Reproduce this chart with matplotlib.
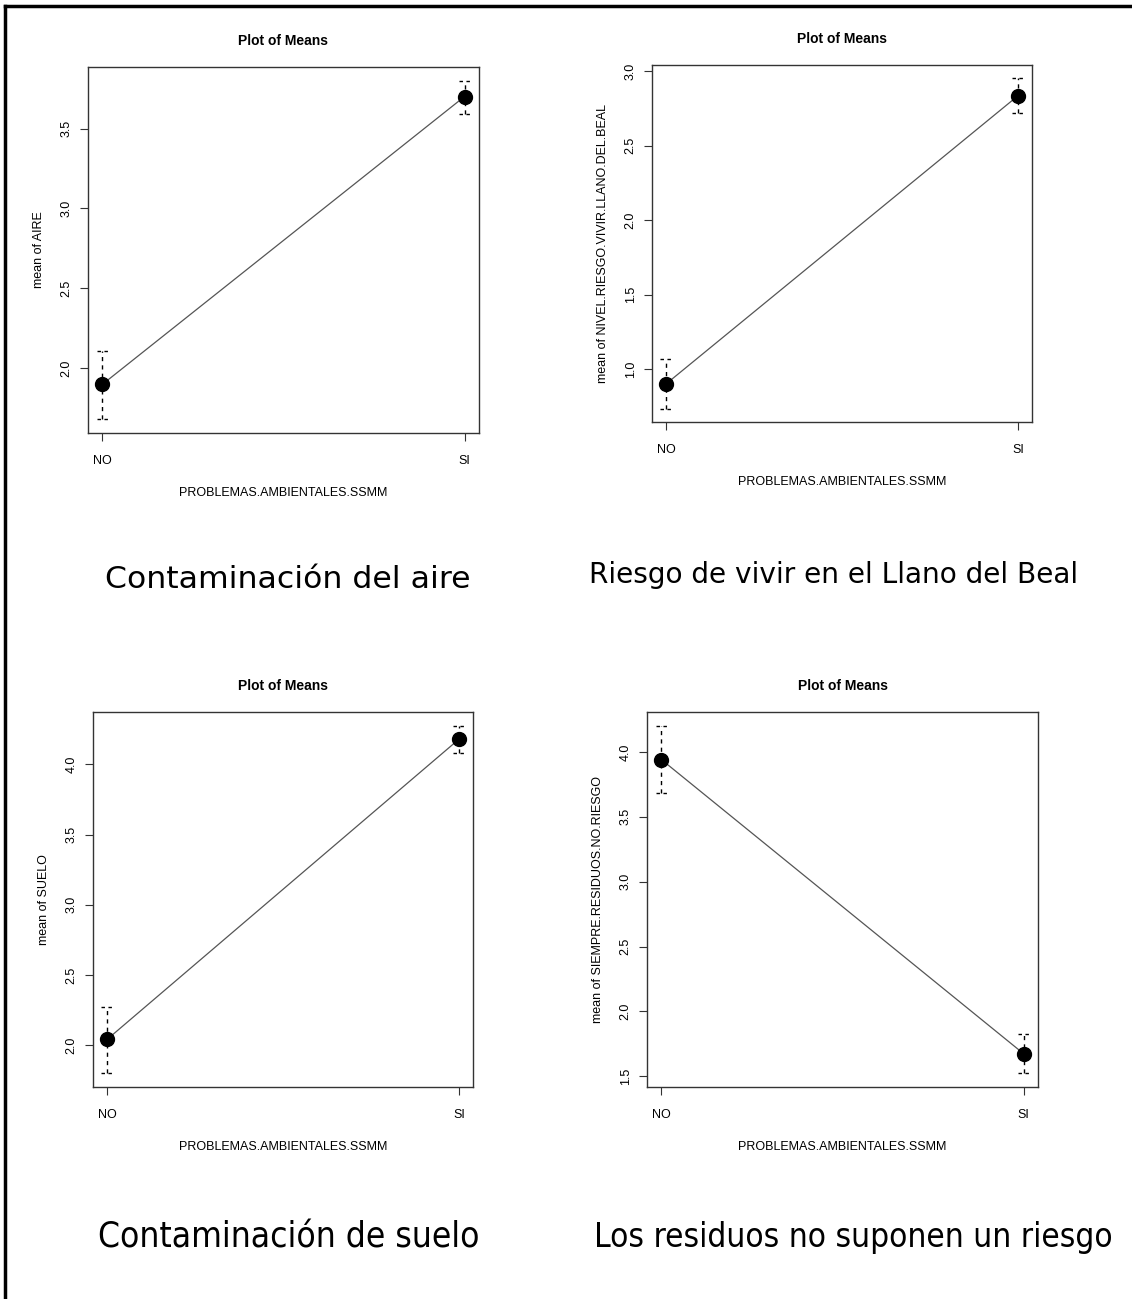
import matplotlib
matplotlib.use("Agg")
import matplotlib.pyplot as plt
from matplotlib.lines import Line2D

groups = ["NO", "SI"]
xlabel = "PROBLEMAS.AMBIENTALES.SSMM"

ylabels = ["mean of AIRE",
           "mean of NIVEL.RIESGO.VIVIR.LLANO.DEL.BEAL",
           "mean of SUELO",
           "mean of SIEMPRE.RESIDUOS.NO.RIESGO"]
means = [[1.90, 3.70],
         [0.90, 2.835],
         [2.04, 4.18],
         [3.94, 1.675]]
upper = [[2.11, 3.80],
         [1.065, 2.953],
         [2.27, 4.275],
         [4.20, 1.83]]
lower = [[1.68, 3.59],
         [0.733, 2.717],
         [1.80, 4.085],
         [3.685, 1.525]]
yticks = [[2.0, 2.5, 3.0, 3.5],
          [1.0, 1.5, 2.0, 2.5, 3.0],
          [2.0, 2.5, 3.0, 3.5, 4.0],
          [1.5, 2.0, 2.5, 3.0, 3.5, 4.0]]
captions = ["Contaminación del aire",
            "Riesgo de vivir en el Llano del Beal",
            "Contaminación de suelo",
            "Los residuos no suponen un riesgo"]

W, H = 1132, 1299
fig = plt.figure(figsize=(W / 100, H / 100), dpi=100)
fig.patch.set_facecolor("white")

# axes boxes in pixel coords: left, top, right, bottom
boxes = [(88, 67, 479, 433),
         (652, 65, 1032, 422),
         (93, 712, 473, 1087),
         (647, 712, 1038, 1087)]
# caption: left x, right x, center y, stretch
cap_pos = [(105, 470, 580, "normal"), (588, 1080, 575, "normal"),
           (98, 480, 1238, "condensed"), (594, 1113, 1238, "condensed")]

afont = ["Liberation Sans", "DejaVu Sans"]
frame_col = "#333333"

for i in range(4):
    l, t, r, b = boxes[i]
    ax = fig.add_axes([l / W, 1 - b / H, (r - l) / W, (b - t) / H])
    xs = [1, 2]
    ax.plot(xs, means[i], color="#555555", lw=0.9, zorder=2)
    ax.plot(xs, means[i], "o", color="black", ms=10, zorder=3)
    ax.vlines(xs, lower[i], upper[i], colors="black", linestyles=(0, (3, 3)), lw=1, zorder=1)
    for xv, lo, up in zip(xs, lower[i], upper[i]):
        ax.hlines([lo, up], xv - 0.016, xv + 0.016, colors="black",
                  linestyles=(0, (2.5, 2.5)), lw=1, zorder=1)
    lo_all = min(lower[i]); hi_all = max(upper[i])
    rng = hi_all - lo_all
    ax.set_ylim(lo_all - 0.04 * rng, hi_all + 0.04 * rng)
    ax.set_xlim(0.96, 2.04)
    ax.set_xticks(xs)
    ax.set_xticklabels(groups, fontsize=9, family=afont)
    ax.set_yticks(yticks[i])
    ax.set_yticklabels([f"{v:.1f}" for v in yticks[i]], fontsize=9, family=afont,
                       rotation=90, va="center")
    ax.tick_params(axis="x", direction="out", length=6, width=0.8, color=frame_col, pad=10)
    ax.tick_params(axis="y", direction="out", length=6, width=0.8, color=frame_col, pad=5)
    for s in ax.spines.values():
        s.set_color(frame_col)
        s.set_linewidth(1.0)
    ax.set_title("Plot of Means", fontsize=10, fontweight="bold", family=afont, pad=16)
    ax.set_xlabel(xlabel, fontsize=9, family=afont, labelpad=14)
    ax.set_ylabel(ylabels[i], fontsize=9, family=afont, labelpad=11)

renderer = fig.canvas.get_renderer()
for i in range(4):
    x0, x1, cy, stretch = cap_pos[i]
    txt = fig.text((x0 + x1) / 2 / W, 1 - cy / H, captions[i], fontsize=24,
                   ha="center", va="center", family=["DejaVu Sans"], stretch=stretch)
    w = txt.get_window_extent(renderer).width
    txt.set_fontsize(24 * (x1 - x0) / w)

# outer frame (top and left edges)
fig.add_artist(Line2D([5 / W, 1], [1 - 6 / H, 1 - 6 / H], color="black", lw=2.5,
                      transform=fig.transFigure))
fig.add_artist(Line2D([5 / W, 5 / W], [0, 1 - 6 / H], color="black", lw=2.5,
                      transform=fig.transFigure))

fig.savefig("out.png", dpi=100, facecolor="white")
